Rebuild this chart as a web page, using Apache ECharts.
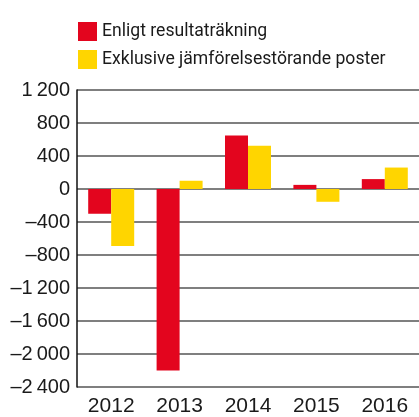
<!DOCTYPE html>
<html><head><meta charset="utf-8">
<script src="https://cdn.jsdelivr.net/npm/echarts@6/dist/echarts.min.js"></script>
<style>html,body{margin:0;padding:0;background:#fff}#c{width:419px;height:417px}</style>
</head><body><div id="c"></div>
<script>
const categories = ['2012','2013','2014','2015','2016'];
const seriesNames = ['Enligt resultaträkning','Exklusive jämförelsestörande poster'];
const enligt = [-300, -2200, 650, 50, 120];
const exklusive = [-690, 100, 525, -155, 260];
const yTicks = [-2400,-2000,-1600,-1200,-800,-400,0,400,800,1200];

const FONT = "'Liberation Sans', sans-serif";
const LFONT = "Roboto, 'Liberation Sans', sans-serif";
function fmt(v){
  const neg = v < 0; let s = String(Math.abs(v));
  if (s.length > 3) s = s.slice(0, s.length-3) + '\u2009' + s.slice(-3);
  return (neg ? '\u2013' : '') + s;
}
const chart = echarts.init(document.getElementById('c'), null, {renderer:'canvas'});
chart.setOption({
  animation:false,
  backgroundColor:'#fff',
  legend:{
    orient:'vertical', left:73, top:17, itemWidth:19, itemHeight:19, itemGap:9,
    icon:'rect',
    textStyle:{fontFamily:LFONT, fontSize:17.6, color:'#1a1a1a'},
    data:seriesNames
  },
  grid:{left:77, right:0, top:90, bottom:29, containLabel:false},
  xAxis:{
    type:'category', data:categories,
    axisTick:{show:false},
    axisLine:{show:false},
    axisLabel:{fontFamily:FONT, fontSize:21, color:'#1a1a1a', margin:9}
  },
  yAxis:{
    type:'value', min:yTicks[0], max:yTicks[yTicks.length-1], interval:400,
    axisLine:{show:true, lineStyle:{color:'#111', width:1.5}},
    axisTick:{show:false},
    splitLine:{show:true, lineStyle:{color:'#555', width:1.5}},
    axisLabel:{fontFamily:FONT, fontSize:20, color:'#1a1a1a', margin:7, formatter:fmt}
  },
  series:[
    {name:seriesNames[0], type:'bar', data:enligt, barWidth:23, barGap:'0%', itemStyle:{color:'#E3051E'}},
    {name:seriesNames[1], type:'bar', data:exklusive, barWidth:23, barGap:'0%', itemStyle:{color:'#FFD500'}}
  ]
});
</script></body></html>
